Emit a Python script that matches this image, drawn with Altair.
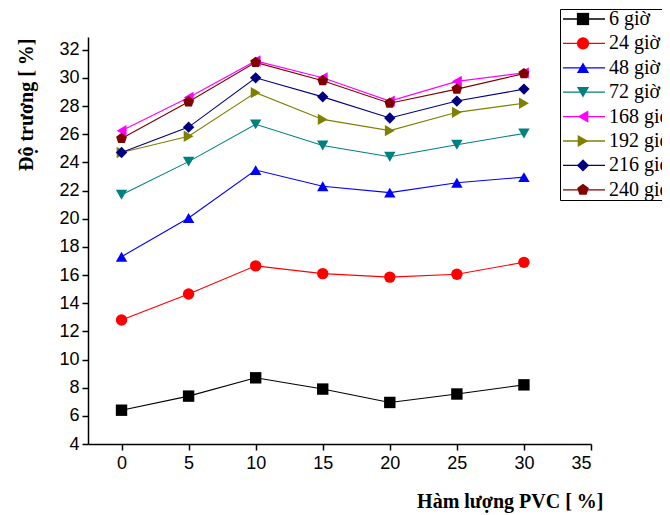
import altair as alt
import pandas as pd

x_vals = [0, 5, 10, 15, 20, 25, 30]
series_names = ["6 giờ", "24 giờ", "48 giờ", "72 giờ", "168 giờ", "192 giờ", "216 giờ", "240 giờ"]
s6 = [6.4, 7.4, 8.7, 7.9, 6.95, 7.55, 8.2]
s24 = [12.8, 14.65, 16.65, 16.1, 15.85, 16.05, 16.9]
s48 = [17.3, 20.05, 23.45, 22.3, 21.85, 22.55, 22.95]
s72 = [21.7, 24.05, 26.7, 25.2, 24.4, 25.25, 26.05]
s168 = [26.25, 28.6, 31.2, 30.0, 28.35, 29.75, 30.35]
s192 = [24.7, 25.85, 28.95, 27.05, 26.25, 27.55, 28.2]
s216 = [24.7, 26.5, 30.0, 28.65, 27.15, 28.35, 29.2]
s240 = [25.7, 28.3, 31.1, 29.8, 28.2, 29.2, 30.3]
all_series = [s6, s24, s48, s72, s168, s192, s216, s240]

colors = ["#000000", "#FF0000", "#0000FF", "#008080", "#FF00FF", "#808000", "#000080", "#800000"]
pentagon = "M0,-1L0.951,-0.309L0.588,0.809L-0.588,0.809L-0.951,-0.309Z"
shapes = ["square", "circle", "triangle-up", "triangle-down", "triangle-left", "triangle-right", "diamond", pentagon]

# separate keys for the line layer so that its (line-only) legend is kept apart
line_keys = ["line " + n for n in series_names]

rows = []
for name, lkey, vals in zip(series_names, line_keys, all_series):
    for x, v in zip(x_vals, vals):
        rows.append({"series": name, "line_series": lkey, "x": x, "y": v})
df = pd.DataFrame(rows)

x_enc = alt.X("x:Q", scale=alt.Scale(domain=[-2.5, 35], nice=False, zero=False),
              axis=alt.Axis(values=[0, 5, 10, 15, 20, 25, 30, 35], title="Hàm lượng PVC [ %]",
                            titleX=515, titleAlign="right", titleY=63, titleBaseline="alphabetic",
                            labelPadding=4))
y_enc = alt.Y("y:Q", scale=alt.Scale(domain=[4, 32.9], nice=False, zero=False),
              axis=alt.Axis(values=list(range(4, 33, 2)), title="Độ trương [ %]",
                            titleX=-56, titleY=1, titleBaseline="alphabetic",
                            titleAlign="right", labelPadding=3))

line_legend = alt.Legend(orient="none", legendX=472, legendY=-28, symbolType="M-1,0H5",
                         symbolSize=196, symbolStrokeWidth=1.3, labelOpacity=0,
                         labelFontSize=20, labelFont="Liberation Serif", title=None,
                         padding=0, strokeColor="black", rowPadding=4.4, labelOffset=6,
                         labelLimit=200, zindex=0)
pt_legend = alt.Legend(orient="none", legendX=485, legendY=-28, symbolSize=150,
                       symbolStrokeWidth=0, labelFontSize=20, labelFont="Liberation Serif",
                       labelColor="black", title=None, padding=0, rowPadding=4.4, labelOffset=16,
                       labelLimit=200, zindex=1)

lines = alt.Chart(df).mark_line(strokeWidth=1.1).encode(
    x=x_enc, y=y_enc,
    stroke=alt.Stroke("line_series:N", scale=alt.Scale(domain=line_keys, range=colors), legend=line_legend),
)
points = alt.Chart(df).mark_point(filled=True, size=130, opacity=1).encode(
    x=x_enc, y=y_enc,
    fill=alt.Fill("series:N", scale=alt.Scale(domain=series_names, range=colors), legend=pt_legend),
    shape=alt.Shape("series:N", scale=alt.Scale(domain=series_names, range=shapes), legend=pt_legend),
)

chart = alt.layer(lines, points).properties(
    width=503, height=407,
    autosize=alt.AutoSizeParams(type="none"),
    padding={"left": 80, "top": 29, "right": 71, "bottom": 70},
).configure_view(stroke="transparent").configure_axis(
    grid=False, domainColor="black", domainWidth=1.5, tickColor="black", tickWidth=1.5,
    tickSize=6, labelFont="Liberation Sans", labelFontSize=18, labelColor="black",
    titleFont="Liberation Serif", titleFontWeight="bold", titleFontSize=20, titleColor="black",
)

chart.save("out.html", embed_options={"renderer": "svg", "actions": False})
